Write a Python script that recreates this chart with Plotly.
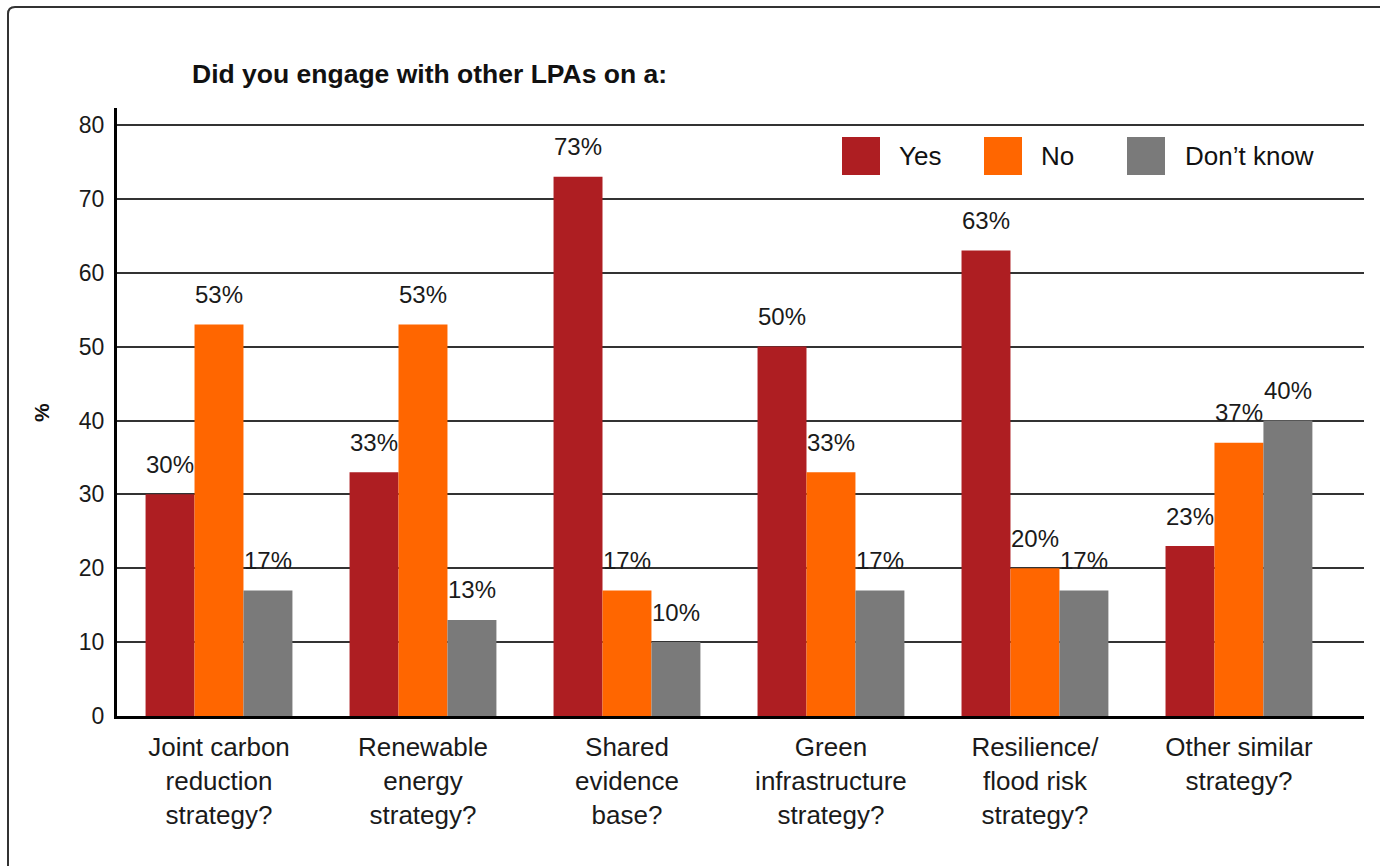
import plotly.graph_objects as go

# Survey responses: engagement with other LPAs, by strategy type (%)
categories = [
    "Joint carbon<br>reduction<br>strategy?",
    "Renewable<br>energy<br>strategy?",
    "Shared<br>evidence<br>base?",
    "Green<br>infrastructure<br>strategy?",
    "Resilience/<br>flood risk<br>strategy?",
    "Other similar<br>strategy?",
]
series_names = ["Yes", "No", "Don\u2019t know"]
yes_vals = [30, 33, 73, 50, 63, 23]
no_vals = [53, 53, 17, 33, 20, 37]
dont_know_vals = [17, 13, 10, 17, 17, 40]
y_ticks = [0, 10, 20, 30, 40, 50, 60, 70, 80]

colors = ["#AE1E22", "#FF6600", "#7A7A7A"]
all_series = [yes_vals, no_vals, dont_know_vals]

FONT = "Liberation Sans, Arial, sans-serif"
BARGAP = 0.28
bar_w = (1 - BARGAP) / len(all_series)

fig = go.Figure()
for name, vals, col in zip(series_names, all_series, colors):
    fig.add_trace(go.Bar(
        name=name, x=categories, y=vals,
        marker=dict(color=col, line=dict(width=0)),
        showlegend=False, hoverinfo="skip",
    ))

annotations = []
# value labels above each bar
for j, vals in enumerate(all_series):
    offset = (j - (len(all_series) - 1) / 2) * bar_w
    for i, v in enumerate(vals):
        annotations.append(dict(
            x=i + offset, y=v, xref="x", yref="y",
            text=f"{v}%", showarrow=False,
            yanchor="middle", yshift=30,
            font=dict(family=FONT, size=24, color="#1a1a1a"),
        ))

# y-axis title
annotations.append(dict(
    x=-0.061, y=0.5, xref="paper", yref="paper", text="<b>%</b>",
    textangle=-90, showarrow=False, xanchor="center", yanchor="middle",
    font=dict(family=FONT, size=21, color="#111"),
))

shapes = []
# legend swatches and labels, placed in pixels from the plot's top-left corner
legend_items = [(725, 780), (867, 922), (1010, 1066)]
for (sx, tx), name, col in zip(legend_items, series_names, colors):
    shapes.append(dict(
        type="rect", xref="paper", yref="paper",
        xsizemode="pixel", ysizemode="pixel", xanchor=0, yanchor=1,
        x0=sx, x1=sx + 38, y0=-29, y1=-67,
        fillcolor=col, line=dict(width=0), layer="above",
    ))
    annotations.append(dict(
        x=tx / 1247, y=1 - 48 / 608, xref="paper", yref="paper",
        text=name, showarrow=False, xanchor="left", yanchor="middle",
        font=dict(family=FONT, size=26, color="#111"),
    ))

# outer frame with a rounded top-left corner
shapes.append(dict(
    type="path", xref="paper", yref="paper",
    xsizemode="pixel", ysizemode="pixel", xanchor=0, yanchor=1,
    path="M -109,-800 L -109,94 Q -109,101 -102,101 L 1300,101",
    line=dict(color="#333333", width=2),
))

fig.update_layout(
    width=1380, height=866,
    margin=dict(l=117, r=16, t=108, b=150),
    paper_bgcolor="white", plot_bgcolor="white",
    barmode="group", bargap=BARGAP, bargroupgap=0,
    title=dict(
        text="<b>Did you engage with other LPAs on a:</b>",
        x=(192 - 117) / 1247, xref="paper", xanchor="left",
        y=1 - 74 / 866, yanchor="middle",
        font=dict(family=FONT, size=26.5, color="#111"),
    ),
    xaxis=dict(
        range=[-0.5, 5.613], showgrid=False,
        showline=True, linecolor="black", linewidth=3,
        ticks="", ticklabelstandoff=6,
        tickfont=dict(family=FONT, size=26, color="#1a1a1a"),
        fixedrange=True,
    ),
    yaxis=dict(
        range=[0, 82.3], tickvals=y_ticks,
        showgrid=True, gridcolor="#333333", gridwidth=1.5,
        showline=True, linecolor="black", linewidth=3,
        zeroline=False, ticks="", ticklabelstandoff=5,
        tickfont=dict(family=FONT, size=23, color="#1a1a1a"),
        fixedrange=True,
    ),
    annotations=annotations,
    shapes=shapes,
    showlegend=False,
)

fig.write_html("out.html")
